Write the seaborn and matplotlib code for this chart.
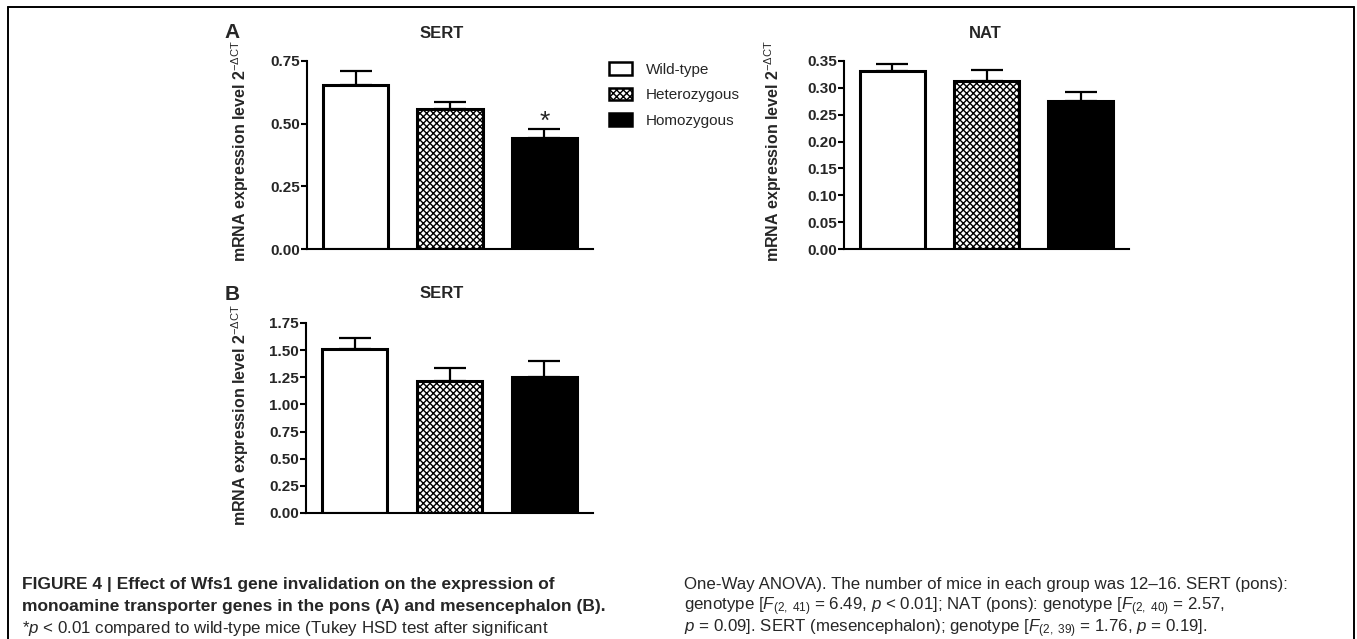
import numpy as np
import pandas as pd
import seaborn as sns
import matplotlib.pyplot as plt
from matplotlib.patches import Patch
from matplotlib.lines import Line2D

genotypes = ['Wild-type', 'Heterozygous', 'Homozygous']

sert_pons = [0.654, 0.557, 0.443]
sert_pons_sem = [0.055, 0.029, 0.037]
nat_pons = [0.332, 0.313, 0.276]
nat_pons_sem = [0.013, 0.020, 0.016]
sert_mes = [1.510, 1.218, 1.252]
sert_mes_sem = [0.104, 0.120, 0.144]

sert_pons_ticks = [0.00, 0.25, 0.50, 0.75]
nat_pons_ticks = [0.00, 0.05, 0.10, 0.15, 0.20, 0.25, 0.30, 0.35]
sert_mes_ticks = [0.00, 0.25, 0.50, 0.75, 1.00, 1.25, 1.50, 1.75]

sns.set_theme(style='ticks')
plt.rcParams['font.family'] = ['Liberation Sans', 'DejaVu Sans']
plt.rcParams['mathtext.fontset'] = 'custom'
plt.rcParams['mathtext.rm'] = 'Liberation Sans'
plt.rcParams['mathtext.it'] = 'Liberation Sans:italic'
plt.rcParams['mathtext.bf'] = 'Liberation Sans:bold'
plt.rcParams['hatch.linewidth'] = 1.0

W, H = 1357, 639
fig = plt.figure(figsize=(W / 100, H / 100), dpi=100)

colors = ['white', 'white', 'black']
hatches = ['', 'xxxxx', '']
ylabel = r'mRNA expression level 2$^{-\Delta \mathrm{CT}}$'


def px_axes(x0, x1, ytop, ybot):
    return fig.add_axes([x0 / W, 1 - ybot / H, (x1 - x0) / W, (ybot - ytop) / H])


def draw_panel(ax, values, sem, ticks):
    df = pd.DataFrame({'genotype': genotypes, 'value': values})
    sns.barplot(data=df, x='genotype', y='value', hue='genotype', palette=colors,
                width=0.69, edgecolor='black', linewidth=2.2, legend=False, ax=ax)
    for patch, h in zip(ax.patches, hatches):
        patch.set_hatch(h)
    ax.errorbar(range(3), values, yerr=[np.zeros(3), sem], fmt='none',
                ecolor='black', elinewidth=1.6, capsize=11.5, capthick=1.6, zorder=1)
    ax.set_xlim(-0.515, 2.515)
    ax.set_ylim(ticks[0], ticks[-1])
    ax.set_yticks(ticks)
    ax.set_yticklabels([f'{t:.2f}' for t in ticks], fontsize=11, fontweight='bold')
    ax.set_xticks([])
    ax.set_xlabel('')
    ax.set_ylabel('')
    for s in ['top', 'right']:
        ax.spines[s].set_visible(False)
    for s in ['left', 'bottom']:
        ax.spines[s].set_linewidth(1.5)
        ax.spines[s].set_color('black')
    ax.tick_params(axis='y', length=4, width=1.5, pad=1, color='black')
    ax.set_facecolor('none')


# panel A, SERT (pons)
ax1 = px_axes(307, 593, 61, 249)
draw_panel(ax1, sert_pons, sert_pons_sem, sert_pons_ticks)
ax1.annotate('*', (2, sert_pons[2] + sert_pons_sem[2]), xytext=(0, -4),
             textcoords='offset points', ha='center', va='bottom', fontsize=19)

# panel A, NAT (pons)
ax2 = px_axes(844, 1129, 61, 249)
draw_panel(ax2, nat_pons, nat_pons_sem, nat_pons_ticks)

# panel B, SERT (mesencephalon)
ax3 = px_axes(306, 593, 323, 513)
draw_panel(ax3, sert_mes, sert_mes_sem, sert_mes_ticks)

title_kw = dict(ha='center', va='center', fontsize=12, fontweight='bold')
fig.text(442 / W, 1 - 33 / H, 'SERT', **title_kw)
fig.text(985 / W, 1 - 33 / H, 'NAT', **title_kw)
fig.text(442 / W, 1 - 294 / H, 'SERT', **title_kw)
fig.text(232 / W, 1 - 33 / H, 'A', ha='center', va='center', fontsize=15, fontweight='bold')
fig.text(232 / W, 1 - 294 / H, 'B', ha='center', va='center', fontsize=15, fontweight='bold')

lab_kw = dict(rotation=90, ha='center', va='center', fontsize=11.5, fontweight='bold')
fig.text(240 / W, 1 - 151 / H, ylabel, **lab_kw)
fig.text(773 / W, 1 - 151 / H, ylabel, **lab_kw)
fig.text(240 / W, 1 - 415 / H, ylabel, **lab_kw)

handles = [Patch(facecolor=c, edgecolor='black', hatch=h, linewidth=1.8)
           for c, h in zip(colors, hatches)]
fig.legend(handles, genotypes, loc='upper left', bbox_to_anchor=(609 / W, 1 - 62 / H),
           frameon=False, fontsize=11, handlelength=1.5, handleheight=0.9,
           handletextpad=0.9, labelspacing=0.72, borderpad=0, borderaxespad=0)

# caption
bold_kw = dict(fontsize=12.5, va='center', ha='left', fontweight='bold')
reg_kw = dict(fontsize=12.2, va='center', ha='left')
fig.text(22 / W, 1 - 585 / H,
         'FIGURE 4 | Effect of Wfs1 gene invalidation on the expression of', **bold_kw)
fig.text(22 / W, 1 - 607 / H,
         'monoamine transporter genes in the pons (A) and mesencephalon (B).', **bold_kw)
fig.text(22 / W, 1 - 629 / H,
         r'*$p$ < 0.01 compared to wild-type mice (Tukey HSD test after significant',
         **reg_kw)
fig.text(684 / W, 1 - 585 / H,
         'One-Way ANOVA). The number of mice in each group was 12\u201316. SERT (pons):',
         **reg_kw)
fig.text(684 / W, 1 - 607 / H,
         r'genotype [$F_{(2,\ 41)}$ = 6.49, $p$ < 0.01]; NAT (pons): genotype [$F_{(2,\ 40)}$ = 2.57,',
         **reg_kw)
fig.text(684 / W, 1 - 629 / H,
         r'$p$ = 0.09]. SERT (mesencephalon); genotype [$F_{(2,\ 39)}$ = 1.76, $p$ = 0.19].',
         **reg_kw)

# frame around the figure
for xs, ys in [([8, 8], [H, 7]), ([8, 1354], [7, 7]), ([1354, 1354], [7, H])]:
    fig.add_artist(Line2D([x / W for x in xs], [1 - y / H for y in ys],
                          color='black', linewidth=1.4, transform=fig.transFigure))

fig.savefig('out.png', dpi=100)
